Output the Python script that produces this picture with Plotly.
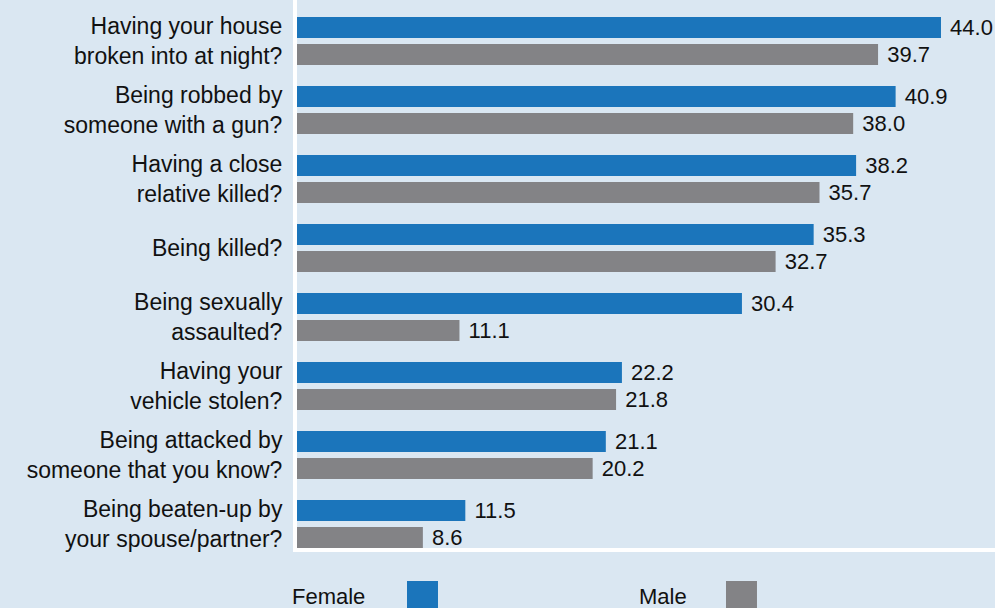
import plotly.graph_objects as go

categories = [
    "Having your house<br>broken into at night?",
    "Being robbed by<br>someone with a gun?",
    "Having a close<br>relative killed?",
    "Being killed?",
    "Being sexually<br>assaulted?",
    "Having your<br>vehicle stolen?",
    "Being attacked by<br>someone that you know?",
    "Being beaten-up by<br>your spouse/partner?",
]
female = [44.0, 40.9, 38.2, 35.3, 30.4, 22.2, 21.1, 11.5]
male = [39.7, 38.0, 35.7, 32.7, 11.1, 21.8, 20.2, 8.6]

BG = "#dae7f2"
BLUE = "#1b75bb"
GRAY = "#838386"
FONT = "Liberation Sans, Arial, Helvetica, sans-serif"

fig = go.Figure()
for name, vals, col in [("Female", female, BLUE), ("Male", male, GRAY)]:
    fig.add_trace(go.Bar(
        y=categories, x=vals, name=name, orientation="h",
        marker=dict(color=col, line=dict(width=0)),
        text=[f"{v:.1f}" for v in vals],
        texttemplate="\u00a0%{text}",
        textposition="outside", constraintext="none", cliponaxis=False,
        textfont=dict(family=FONT, size=22, color="#111111"),
        showlegend=False, hoverinfo="skip",
    ))

fig.update_layout(
    width=995, height=608,
    margin=dict(l=297, r=0, t=0, b=60),
    paper_bgcolor=BG, plot_bgcolor=BG,
    barmode="group", bargap=0.217, bargroupgap=0.222,
    font=dict(family=FONT, size=22, color="#111111"),
    xaxis=dict(range=[0, 47.69], showgrid=False, zeroline=False,
               showticklabels=False, showline=True, linecolor="white",
               linewidth=4, ticks=""),
    yaxis=dict(categoryorder="array", categoryarray=categories,
               range=[7.348, -0.594], showgrid=False, zeroline=False,
               showline=True, linecolor="white", linewidth=4, ticks="",
               ticklabelstandoff=6,
               tickfont=dict(family=FONT, size=23, color="#111111")),
)

legend_items = [("Female", BLUE, -0.01, 0.1576, 0.2020),
                ("Male", GRAY, 0.487, 0.6146, 0.6590)]
for label, col, tx, x0, x1 in legend_items:
    fig.add_annotation(text=label, xref="paper", yref="paper", x=tx, y=-0.0894,
                       xanchor="left", yanchor="middle", showarrow=False,
                       font=dict(family=FONT, size=22, color="#111111"))
    fig.add_shape(type="rect", xref="paper", yref="paper", x0=x0, x1=x1,
                  y0=-0.0602, y1=-0.13, fillcolor=col, line=dict(width=0),
                  layer="above")

fig.write_html("out.html", config={"displayModeBar": False},
               post_script="document.body.style.margin='0';document.body.style.overflow='hidden';")
